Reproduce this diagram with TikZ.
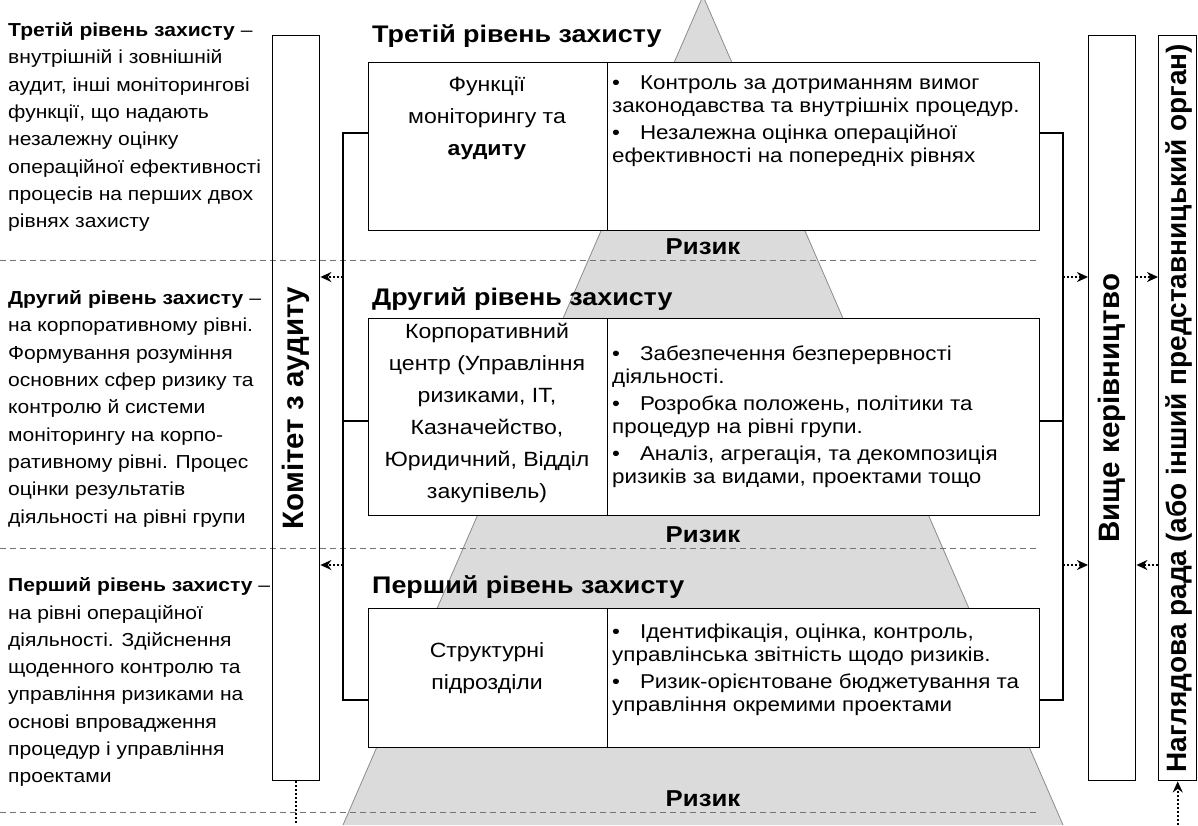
\documentclass[tikz,border=0pt]{standalone}
\usepackage{fontspec}
\setmainfont[FakeStretch=1.12]{Liberation Sans}
\newfontfamily\uprightsans{Liberation Sans}
\usetikzlibrary{arrows.meta}

\begin{document}
\begin{tikzpicture}[x=1pt,y=-1pt,
  cell/.style={draw=black, line width=1.4pt, fill=white, anchor=north west, inner sep=0pt},
  sidebox/.style={draw=black, line width=1.4pt, anchor=north west, inner sep=0pt},
  bracket/.style={draw=black, line width=1.4pt},
  sep/.style={draw=black!55, line width=0.9pt, dash pattern=on 6pt off 4pt},
  darr/.style={draw=black, line width=2pt, dash pattern=on 2pt off 2pt, -{Stealth[length=11pt,width=10pt]}},
  dline/.style={draw=black, line width=2pt, dash pattern=on 2pt off 2pt},
  sidetext/.style={anchor=north west, align=left, inner sep=0pt, font=\fontsize{18.8}{27.3}\selectfont},
  head/.style={anchor=west, inner sep=0pt, font=\fontsize{24}{28}\selectfont\bfseries},
  unit/.style={align=center, inner sep=0pt, font=\fontsize{20.6}{32}\selectfont},
  tasks/.style={anchor=north west, align=left, inner sep=0pt, font=\fontsize{20}{22.5}\selectfont},
  risk/.style={inner sep=0pt, font=\fontsize{23}{26}\selectfont\bfseries},
  vtext/.style={rotate=90, inner sep=0pt, font=\uprightsans\fontsize{29.5}{32}\selectfont\bfseries}
]
\useasboundingbox (0,0) rectangle (1198,825);

% risk pyramid in the background
\fill[black!14] (703,-4) -- (1063,825) -- (343,825) -- cycle;
\draw[black!45, line width=0.8pt] (343,825) -- (703,-4) -- (1063,825);

% horizontal separators between the levels
\draw[sep] (0,260) -- (1039,260);
\draw[sep] (0,548) -- (1039,548);
\draw[sep] (0,812) -- (1039,812);

% level descriptions on the left
\node[sidetext] (d3) at (8,22.5) {\textbf{Третій рівень захисту} –\\
внутрішній і зовнішній\\
аудит, інші моніторингові\\
функції, що надають\\
незалежну оцінку\\
операційної ефективності\\
процесів на перших двох\\
рівнях захисту};
\node[sidetext] (d2) at (8,290.5) {\textbf{Другий рівень захисту} –\\
на корпоративному рівні.\\
Формування розуміння\\
основних сфер ризику та\\
контролю й системи\\
моніторингу на корпо-\\
ративному рівні. Процес\\
оцінки результатів\\
діяльності на рівні групи};
\node[sidetext] (d1) at (8,577.5) {\textbf{Перший рівень захисту} –\\
на рівні операційної\\
діяльності. Здійснення\\
щоденного контролю та\\
управління ризиками на\\
основі впровадження\\
процедур і управління\\
проектами};

% vertical governance bodies
\node[sidebox, minimum width=47pt, minimum height=745pt] (audit) at (272,35) {};
\node[vtext] at (audit.center) {Комітет з аудиту};
\node[sidebox, minimum width=47pt, minimum height=745pt] (mgmt) at (1088,35) {};
\node[vtext] at (mgmt.center) {Вище керівництво};
\node[sidebox, minimum width=38pt, minimum height=745pt] (board) at (1158,35) {};
\node[vtext, font=\uprightsans\fontsize{28}{32}\selectfont\bfseries] at ([xshift=1pt]board.center) {Наглядова рада (або інший представницький орган)};

% level headings
\node[head] (h3) at (372,36) {Третій рівень захисту};
\node[head] (h2) at (372,299) {Другий рівень захисту};
\node[head] (h1) at (372,587) {Перший рівень захисту};

% third level
\node[cell, minimum width=239pt, minimum height=168pt] (u3) at (368,62) {};
\node[cell, minimum width=432pt, minimum height=168pt] (t3) at (607,62) {};
\node[unit] at (487,118) {Функції\\моніторингу та\\\textbf{аудиту}};
\node[tasks] at (612,76) {•\hspace{20pt}Контроль за дотриманням вимог\\
законодавства та внутрішніх процедур.\\[5pt]
•\hspace{20pt}Незалежна оцінка операційної\\
ефективності на попередніх рівнях};

% second level
\node[cell, minimum width=239pt, minimum height=197pt] (u2) at (368,318) {};
\node[cell, minimum width=432pt, minimum height=197pt] (t2) at (607,318) {};
\node[unit] at (487,413) {Корпоративний\\центр (Управління\\ризиками, IT,\\Казначейство,\\Юридичний, Відділ\\закупівель)};
\node[tasks] at (612,346) {•\hspace{20pt}Забезпечення безперервності\\
діяльності.\\[5pt]
•\hspace{20pt}Розробка положень, політики та\\
процедур на рівні групи.\\[5pt]
•\hspace{20pt}Аналіз, агрегація, та декомпозиція\\
ризиків за видами, проектами тощо};

% first level
\node[cell, minimum width=239pt, minimum height=139pt] (u1) at (368,608) {};
\node[cell, minimum width=432pt, minimum height=139pt] (t1) at (607,608) {};
\node[unit] at (487,668) {Структурні\\підрозділи};
\node[tasks] at (612,624) {•\hspace{20pt}Ідентифікація, оцінка, контроль,\\
управлінська звітність щодо ризиків.\\[5pt]
•\hspace{20pt}Ризик-орієнтоване бюджетування та\\
управління окремими проектами};

% risk labels
\node[risk] (r3) at (703,247) {Ризик};
\node[risk] (r2) at (703,535) {Ризик};
\node[risk] (r1) at (703,799) {Ризик};

% brackets joining the levels
\coordinate (la) at (343,133);
\coordinate (lb) at (343,421);
\coordinate (lc) at (343,700);
\coordinate (ra) at (1063,133);
\coordinate (rb) at (1063,421);
\coordinate (rc) at (1063,700);
\draw[bracket] (u3.west |- la) -- (la) -- (lc) -- (u1.west |- lc);
\draw[bracket] (lb) -- (u2.west |- lb);
\draw[bracket] (t3.east |- ra) -- (ra) -- (rc) -- (t1.east |- rc);
\draw[bracket] (rb) -- (t2.east |- rb);

% reporting arrows
\coordinate (lx) at (343,277);
\coordinate (ly) at (343,565);
\coordinate (rx) at (1063,277);
\coordinate (ry) at (1063,565);
\draw[darr] (lx) -- (audit.east |- lx);
\draw[darr] (ly) -- (audit.east |- ly);
\draw[darr] (rx) -- (mgmt.west |- rx);
\draw[darr] (ry) -- (mgmt.west |- ry);
\draw[darr] (mgmt.east |- rx) -- (board.west |- rx);
\draw[darr] (board.west |- ry) -- (mgmt.east |- ry);
\coordinate (ab) at (audit.south |- 0,825);
\coordinate (bb) at (board.south |- 0,825);
\draw[dline] (audit.south) -- (ab);
\draw[darr] (bb) -- (board.south);
\end{tikzpicture}
\end{document}
